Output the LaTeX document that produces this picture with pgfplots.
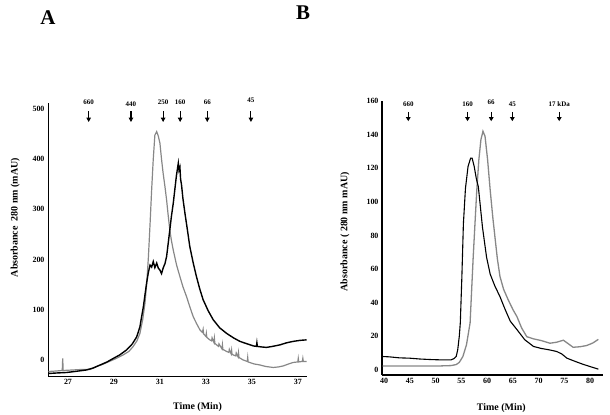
\documentclass[border=0pt]{standalone}
\usepackage{fontspec}
\setmainfont{Liberation Serif}
\usepackage{pgfplots}
\pgfplotsset{compat=1.18}
\usetikzlibrary{arrows.meta}
\definecolor{grayline}{RGB}{135,135,135}
\tikzset{kda/.style={font=\bfseries\fontsize{7}{8}\selectfont, inner sep=0pt}}
\pgfplotsset{
  chrom/.style={
    scale only axis,
    axis lines*=left,
    axis line style={-, line width=0.9bp, black},
    major tick length=0pt,
    minor tick length=0pt,
    tick label style={font=\bfseries\fontsize{8}{9}\selectfont},
    label style={font=\bfseries\fontsize{10}{12}\selectfont},
    /pgf/number format/assume math mode=true,
    clip=false,
  },
}
\begin{document}
\begin{tikzpicture}
\useasboundingbox (0,0) rectangle (610bp,415bp);
\node[font=\bfseries\fontsize{21}{24}\selectfont] at (48bp,397bp) {A};
\node[font=\bfseries\fontsize{21}{24}\selectfont] at (303bp,402bp) {B};
% ---------------- Panel A
\begin{axis}[chrom,
  at={(48bp,39bp)}, anchor=south west,
  width=259bp, height=273bp,
  xmin=26.13, xmax=37.4, ymin=-32, ymax=512,
  xtick={27,29,31,33,35,37},
  ytick={0,100,200,300,400,500},
  xlabel={Time (Min)},
  ylabel={Absorbance\ \ 280 nm (mAU)},
  xlabel style={at={(rel axis cs:0.577,0)}, anchor=center, yshift=-31bp},
  ylabel style={at={(rel axis cs:-0.127,0.58)}, anchor=center},
]
\addplot[grayline, line width=1.2bp] coordinates {
(26.15,-23) (26.5,-22) (26.75,-21) (26.77,3) (26.79,-21) (27.2,-20) (27.6,-19) (27.96,-19)
(28.3,-12) (28.5,-9) (28.8,-3) (29.1,3) (29.4,10) (29.65,17) (29.84,27) (30.0,38) (30.13,53)
(30.25,80) (30.35,113) (30.43,155) (30.5,206) (30.57,270) (30.64,339) (30.71,400) (30.78,448)
(30.86,455) (30.93,446) (31.0,432) (31.07,400) (31.14,372) (31.22,345) (31.29,319) (31.36,288)
(31.43,259) (31.5,238) (31.58,219) (31.72,190) (31.87,166) (32.0,146) (32.16,126) (32.3,106)
(32.45,86) (32.6,72) (32.74,60) (32.85,55) (32.88,61) (32.9,52) (33.0,47) (33.02,53) (33.04,45) (33.17,40)
(33.25,38) (33.27,44) (33.35,35) (33.37,43) (33.39,33) (33.55,27) (33.57,32) (33.7,22) (33.72,30) (33.74,21) (33.9,17)
(34.0,15) (34.02,21) (34.1,12) (34.12,19) (34.14,11) (34.3,8) (34.32,14) (34.4,6) (34.42,14) (34.44,5) (34.62,0) (34.8,-3)
(34.82,5) (34.84,-4) (35.1,-8) (35.35,-10) (35.6,-13) (35.93,-15) (36.15,-14) (36.36,-12)
(36.6,-8) (36.8,-5) (37.0,-4) (37.02,3) (37.04,-4) (37.2,-3) (37.22,3) (37.24,-3) (37.38,-3)
};
\addplot[black, line width=1.4bp] coordinates {
(26.15,-27) (26.5,-26) (26.94,-25) (27.3,-23) (27.8,-20) (28.1,-16) (28.4,-10) (28.7,-4)
(28.97,3) (29.25,10) (29.55,20) (29.8,32) (29.99,46) (30.13,66) (30.2,85) (30.28,106)
(30.35,130) (30.42,153) (30.5,175) (30.57,189) (30.64,185) (30.71,196) (30.78,184) (30.86,193)
(30.93,183) (31.0,179) (31.07,172) (31.14,183) (31.22,192) (31.29,206) (31.36,232) (31.43,259)
(31.5,286) (31.58,312) (31.65,340) (31.72,368) (31.76,380) (31.8,392) (31.83,378) (31.87,384)
(31.9,360) (31.94,349) (32.0,322) (32.09,292) (32.2,258) (32.3,226) (32.45,193) (32.59,166)
(32.73,142) (32.88,120) (33.1,98) (33.32,80) (33.6,64) (33.9,53) (34.2,44) (34.48,37)
(34.8,32) (35.06,28) (35.2,27) (35.22,34) (35.24,27) (35.4,26) (35.64,25) (35.9,27)
(36.22,30) (36.5,34) (36.8,37) (37.1,39) (37.38,40)
};
\foreach \xx/\lab/\ly in {27.9/660/514, 29.74/440/510, 31.14/250/514, 31.88/160/514, 33.06/66/514, 34.96/45/518} {
  \edef\temp{\noexpand\node[kda] at (axis cs:\xx,\ly) {\lab};
  \noexpand\draw[line width=1.1bp, -{Triangle[length=4.5bp,width=4.5bp]}] (axis cs:\xx,496) -- (axis cs:\xx,474);}
  \temp
}
\end{axis}
% ---------------- Panel B
\begin{axis}[chrom,
  at={(382bp,40bp)}, anchor=south west,
  width=221bp, height=274bp,
  xmin=39.6, xmax=82.5, ymin=-3, ymax=160,
  xtick={40,45,...,80},
  ytick={0,20,...,160},
  xlabel={Time (Min)},
  ylabel={Absorbance ( 280 nm mAU)},
  xlabel style={at={(rel axis cs:0.54,0)}, anchor=center, yshift=-33bp},
  ylabel style={at={(rel axis cs:-0.167,0.523)}, anchor=center},
  axis line style={-, line width=1.1bp, black},
]
\addplot[grayline, line width=1.3bp] coordinates {
(39.7,2.4) (42,2.4) (45,2.3) (48,2.3) (51,2.4) (53,2.6) (54,3.2) (54.6,4.5) (55.3,8)
(56.0,15) (56.7,28) (57.3,67) (57.7,90) (58.0,107) (58.4,125) (58.8,137) (59.2,142)
(59.6,139) (60.1,125) (60.6,107) (61.1,91) (61.6,77) (62.0,66) (62.5,55.6) (63.2,48)
(64.1,41.7) (65.0,36) (65.8,31.7) (66.7,25) (67.7,19.8) (69.0,18.5) (70.5,17.5) (72.2,15.9)
(73.5,16.5) (74.8,17.7) (75.8,15.5) (76.7,13.5) (78.0,13.8) (79.3,14.5) (80.5,16) (81.6,18.2)
};
\addplot[black, line width=1.1bp] coordinates {
(39.7,8) (41,7.8) (43,7.2) (45,7) (47,6.5) (49,6.2) (51,6) (53,6) (53.6,6.8) (54.0,8)
(54.3,12) (54.6,20) (54.8,28) (55.1,55) (55.4,87) (55.8,108) (56.3,121) (56.8,126)
(57.1,126) (57.5,121) (57.9,114) (58.3,109) (59.1,85) (59.9,67) (60.6,57) (61.5,50)
(62.5,43.6) (63.5,36) (64.5,29) (65.8,24) (67.3,18) (69.0,14) (70.5,12.8) (72.0,12)
(73.5,11) (74.5,9.5) (75.5,7) (77,5.2) (78.5,3.5) (80,2) (81.6,0.5)
};
\foreach \xx/\lab/\ly in {44.7/660/158, 56.2/160/158, 60.8/66/159, 64.9/45/158, 74/{17 kDa}/158} {
  \edef\temp{\noexpand\node[kda] at (axis cs:\xx,\ly) {\lab};
  \noexpand\draw[line width=1.1bp, -{Triangle[length=4bp,width=4.5bp]}] (axis cs:\xx,153.5) -- (axis cs:\xx,148);}
  \temp
}
\end{axis}
\end{tikzpicture}
\end{document}
